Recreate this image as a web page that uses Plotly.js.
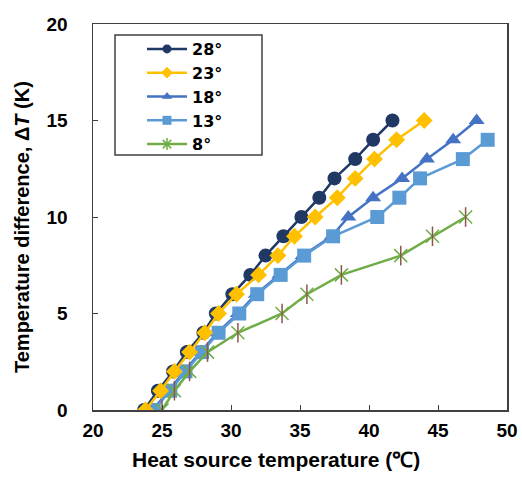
<!DOCTYPE html>
<html>
<head>
<meta charset="utf-8">
<script src="https://cdn.plot.ly/plotly-3.0.1.min.js"></script>
<style>html,body{margin:0;padding:0;background:#fff;}#chart{width:522px;height:478px;}</style>
</head>
<body>
<div id="chart"></div>
<script>
// Series names
const seriesNames = ["28°", "23°", "18°", "13°", "8°"];
// Temperature difference ΔT (K)
const dT28 = [0,1,2,3,4,5,6,7,8,9,10,11,12,13,14,15];
const dT23 = [0,1,2,3,4,5,6,7,8,9,10,11,12,13,14,15];
const dT18 = [0,1,2,3,4,5,6,7,8,9,10,11,12,13,14,15];
const dT13 = [0,1,2,3,4,5,6,7,8,9,10,11,12,13,14];
const dT8  = [0,1,2,3,4,5,6,7,8,9,10];
// Heat source temperature (°C)
const hs28 = [23.7,24.7,25.8,26.8,28.0,28.9,30.1,31.4,32.5,33.8,35.1,36.4,37.5,39.0,40.3,41.7];
const hs23 = [23.8,24.9,25.9,27.0,28.1,29.1,30.4,32.0,33.4,34.6,36.1,37.7,39.0,40.4,42.0,44.0];
const hs18 = [24.3,25.5,26.6,27.8,29.0,30.5,31.8,33.5,35.2,37.3,38.5,40.3,42.4,44.2,46.1,47.8];
const hs13 = [24.4,25.6,26.7,27.9,29.1,30.6,31.9,33.6,35.3,37.4,40.6,42.2,43.7,46.8,48.6];
const hs8  = [25.0,25.9,27.0,28.3,30.5,33.7,35.5,38.0,42.3,44.6,47.0];
// Axis ticks
const xTicks = [20,25,30,35,40,45,50];
const yTicks = [0,5,10,15,20];
const xTitle = "Heat source temperature (℃)";
const yTitle = "Temperature difference, Δ<i>T</i> (K)";

const colors = ["#1F3864", "#FFC000", "#4472C4", "#5B9BD5", "#70AD47"];
const starColor = "#93C572";

function series(x, y, i, marker) {
  return {x: x, y: y, name: seriesNames[i], showlegend: false, mode: "lines+markers",
    line: {color: colors[i], width: 2.5}, marker: marker};
}
const t28 = series(hs28, dT28, 0, {symbol: "circle", size: 14, color: colors[0]});
const t23 = series(hs23, dT23, 1, {symbol: "diamond", size: 13, color: colors[1]});
const t18 = series(hs18, dT18, 2, {symbol: "triangle-up", size: 14, color: colors[2]});
const t13 = series(hs13, dT13, 3, {symbol: "square", size: 14, color: colors[3]});
const t8  = series(hs8, dT8, 4, {symbol: "x-thin-open", size: 13, line: {color: starColor, width: 1.5}});
const t8b = {x: hs8, y: dT8, showlegend: false, mode: "markers", hoverinfo: "skip",
  marker: {symbol: "line-ns-open", size: 14, line: {color: starColor, width: 1.5}}};

// legend-only entries (no data) with small symbols, like the reference legend
const legSymbols = ["circle", "diamond", "triangle-up", "square", "asterisk-open"];
const legendTraces = seriesNames.map((n, i) => ({
  x: [null], y: [null], name: n, mode: "lines+markers", legendrank: i + 1,
  line: {color: colors[i], width: 2.5},
  marker: i === 4 ? {symbol: legSymbols[i], size: 10, line: {color: starColor, width: 1.5}}
                  : {symbol: legSymbols[i], size: 9, color: colors[i]}
}));

const data = [t18, t13, t28, t23, t8, t8b].concat(legendTraces);

const fam = "Liberation Sans, Arial, sans-serif";
const P = {l: 93, t: 24, w: 414, h: 386};
const px = v => (v - P.l) / P.w;          // pixel x -> paper
const py = v => (P.t + P.h - v) / P.h;    // pixel y -> paper

const layout = {
  width: 522, height: 478,
  margin: {l: 93, r: 15, t: 24, b: 68},
  paper_bgcolor: "#fff", plot_bgcolor: "#fff",
  font: {family: fam, color: "#000"},
  showlegend: true,
  legend: {
    x: px(142), y: py(32), xanchor: "left", yanchor: "top",
    borderwidth: 0, bgcolor: "rgba(0,0,0,0)",
    font: {family: "DejaVu Sans, sans-serif", size: 16, color: "#000", weight: "bold"},
    itemwidth: 40, tracegroupgap: 0
  },
  shapes: [{type: "rect", xref: "paper", yref: "paper",
    x0: px(115), x1: px(262), y0: py(35), y1: py(155),
    line: {color: "#404040", width: 1.5}, fillcolor: "#fff", layer: "below"}],
  annotations: [
    {text: xTitle, xref: "paper", yref: "paper", x: px(276), y: py(459), xanchor: "center", yanchor: "middle",
      showarrow: false, font: {family: fam, size: 21, color: "#000", weight: "bold"}},
    {text: yTitle, xref: "paper", yref: "paper", x: px(22), y: py(227), xanchor: "center", yanchor: "middle",
      textangle: -90, showarrow: false, font: {family: fam, size: 20, color: "#000", weight: "bold"}}
  ],
  xaxis: {
    range: [20, 50], tickvals: xTicks, ticks: "inside", ticklen: 5, tickcolor: "#404040",
    showgrid: false, zeroline: false, showline: true, linecolor: "#404040", linewidth: 1.5, mirror: true,
    tickfont: {family: fam, size: 19, color: "#000", weight: "bold"},
    ticklabelstandoff: 3
  },
  yaxis: {
    range: [0, 20], tickvals: yTicks, ticks: "inside", ticklen: 5, tickcolor: "#404040",
    showgrid: false, zeroline: false, showline: true, linecolor: "#404040", linewidth: 1.5, mirror: true,
    tickfont: {family: fam, size: 19, color: "#000", weight: "bold"},
    ticklabelstandoff: 20
  }
};

Plotly.newPlot("chart", data, layout, {staticPlot: true, displayModeBar: false});
</script>
</body>
</html>
